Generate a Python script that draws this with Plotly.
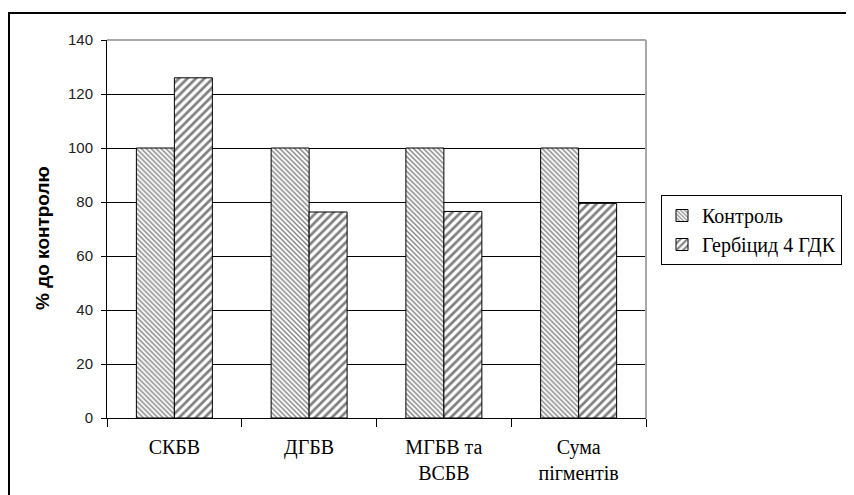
import plotly.graph_objects as go

categories = ["СКБВ", "ДГБВ", "МГБВ та<br>ВСБВ", "Сума<br>пігментів"]
control = [100, 100, 100, 100]
herbicide = [126, 76.3, 76.5, 79.5]
series_names = ["Контроль", "Гербіцид 4 ГДК"]
y_ticks = [0, 20, 40, 60, 80, 100, 120, 140]
y_title = "% до контролю"

OFF = 8  # page body margin
W, H = 854 - OFF, 495 - OFF
L, T = 107 - OFF, 40 - OFF
R = W - (646 - OFF)
B = H - (418 - OFF)
pw = W - L - R
ph = H - T - B

def px_x(x):
    return (x - OFF - L) / pw

def px_y(y):
    return 1 - (y - OFF - T) / ph

SERIF = "Liberation Serif, Times New Roman, serif"
SANS = "Liberation Sans, Arial, sans-serif"

fig = go.Figure()
fig.add_trace(go.Bar(
    x=categories, y=control, name=series_names[0],
    marker=dict(color="white", line=dict(color="black", width=1),
                pattern=dict(shape="\\", size=3.5, solidity=0.4,
                             fgcolor="black", bgcolor="white")),
))
fig.add_trace(go.Bar(
    x=categories, y=herbicide, name=series_names[1],
    marker=dict(color="white", line=dict(color="black", width=1),
                pattern=dict(shape="/", size=6, solidity=0.45,
                             fgcolor="black", bgcolor="white")),
))

fig.update_layout(
    width=W, height=H,
    margin=dict(l=L, r=R, t=T, b=B),
    paper_bgcolor="white", plot_bgcolor="white",
    barmode="group", bargap=0.436, bargroupgap=0,
    showlegend=True,
    legend=dict(
        x=px_x(661), y=px_y(195), xanchor="left", yanchor="top",
        bordercolor="black", borderwidth=1, bgcolor="white",
        font=dict(family=SERIF, size=20, color="black"),
        tracegroupgap=0, itemwidth=30,
    ),
    xaxis=dict(
        showline=True, linecolor="black", linewidth=1,
        ticks="outside", tickson="boundaries", ticklen=8, tickcolor="black",
        tickfont=dict(family=SERIF, size=20, color="black"),
        ticklabelstandoff=11,
        showgrid=False,
    ),
    yaxis=dict(
        range=[0, 140], tickvals=y_ticks,
        showline=True, linecolor="black", linewidth=1,
        ticks="outside", ticklen=5, tickcolor="black",
        tickfont=dict(family=SANS, size=15, color="#222"),
        ticklabelstandoff=5,
        showgrid=True, gridcolor="black", gridwidth=1,
        zeroline=False,
    ),
    annotations=[
        dict(text=y_title, textangle=-90, xref="paper", yref="paper",
             x=px_x(42), y=px_y(238), xanchor="center", yanchor="middle",
             showarrow=False,
             font=dict(family=SANS, size=19, color="black", weight="bold")),
    ],
    shapes=[
        dict(type="line", xref="paper", yref="paper", x0=0, x1=1, y0=1, y1=1,
             line=dict(color="#a8a8a8", width=2), layer="above"),
        dict(type="line", xref="paper", yref="paper", x0=1, x1=1, y0=0, y1=1,
             line=dict(color="#a8a8a8", width=2), layer="above"),
        dict(type="rect", xref="paper", yref="paper",
             x0=px_x(9), x1=px_x(880), y0=px_y(520), y1=px_y(13),
             line=dict(color="black", width=2), fillcolor="rgba(0,0,0,0)", layer="above"),
    ],
)

fig.write_html("out.html")
